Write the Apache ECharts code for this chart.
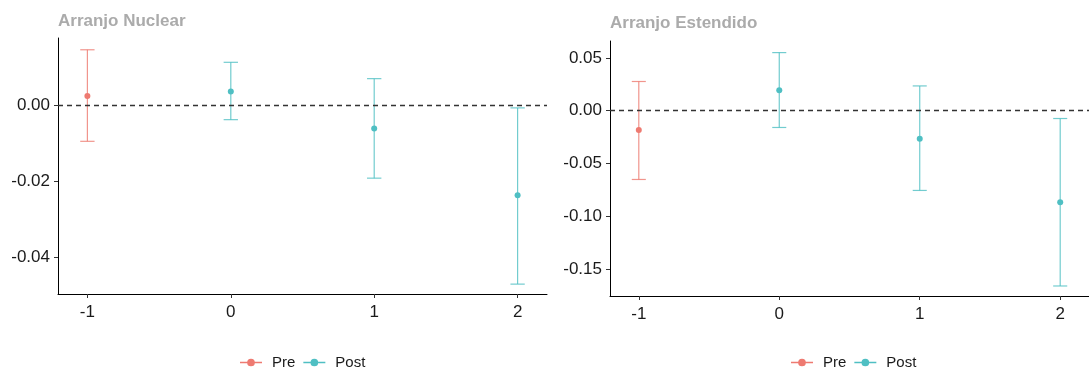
<!DOCTYPE html>
<html><head><meta charset="utf-8">
<script src="https://cdn.jsdelivr.net/npm/echarts@6/dist/echarts.min.js"></script>
<style>html,body{margin:0;padding:0;background:#fff}#c{width:1089px;height:371px}</style>
</head><body><div id="c"></div>
<script>
// ---- data ----
const titles = ['Arranjo Nuclear', 'Arranjo Estendido'];
const periods = [-1, 0, 1, 2];
const phase = ['Pre', 'Post', 'Post', 'Post'];
const nuclearEst = [0.0024, 0.0036, -0.0061, -0.0237];
const nuclearLo  = [-0.0095, -0.0038, -0.0192, -0.0471];
const nuclearHi  = [0.0146, 0.0113, 0.0070, -0.0007];
const estendEst = [-0.0182, 0.0194, -0.0267, -0.0869];
const estendLo  = [-0.0652, -0.0159, -0.0756, -0.1662];
const estendHi  = [0.0277, 0.0551, 0.0235, -0.0074];
const nuclearTicks = [-0.04, -0.02, 0.00];
const estendTicks = [-0.15, -0.10, -0.05, 0.00, 0.05];
const xTicks = [-1, 0, 1, 2];

const colors = { Pre: '#EE7A71', Post: '#4FBFC3' };
const capHalf = 0.05;

function rowsFor(est, lo, hi, ph) {
  const r = [];
  periods.forEach((p, i) => { if (phase[i] === ph) r.push([p, est[i], lo[i], hi[i]]); });
  return r;
}

function errSeries(name, idx, rows) {
  const c = colors[name];
  return {
    type: 'custom', name: name, xAxisIndex: idx, yAxisIndex: idx,
    data: rows, encode: { x: 0, y: [1, 2, 3] },
    renderItem: function (params, api) {
      const x = api.value(0), y = api.value(1), lo = api.value(2), hi = api.value(3);
      const pLo = api.coord([x, lo]), pHi = api.coord([x, hi]), pM = api.coord([x, y]);
      const l = api.coord([x - capHalf, lo])[0], r = api.coord([x + capHalf, lo])[0];
      const ls = { stroke: c, lineWidth: 1.2, opacity: 0.8 };
      return { type: 'group', children: [
        { type: 'line', shape: { x1: pLo[0], y1: pLo[1], x2: pHi[0], y2: pHi[1] }, style: ls },
        { type: 'line', shape: { x1: l, y1: pLo[1], x2: r, y2: pLo[1] }, style: ls },
        { type: 'line', shape: { x1: l, y1: pHi[1], x2: r, y2: pHi[1] }, style: ls },
        { type: 'circle', shape: { cx: pM[0], cy: pM[1], r: 3 }, style: { fill: c } }
      ]};
    },
    itemStyle: { color: c },
    z: 3
  };
}

function zeroLine(idx) {
  return {
    type: 'line', xAxisIndex: idx, yAxisIndex: idx, data: [], silent: true,
    markLine: { silent: true, symbol: 'none', label: { show: false },
      lineStyle: { color: '#333', width: 1.3, type: [5, 4] },
      data: [{ yAxis: 0 }] },
    z: 2
  };
}

const grids = [
  { left: 58, top: 38, width: 489, height: 256 },
  { left: 610, top: 41, width: 485, height: 255 }
];
const yRanges = [[-0.0497, 0.0177], [-0.1757, 0.0661]];
const yTickSets = [nuclearTicks, estendTicks];

const FONT = 'Liberation Sans, Arial, sans-serif';
const axisText = { color: '#1a1a1a', fontSize: 17, fontFamily: FONT };

const xAxes = grids.map((g, i) => ({
  type: 'value', gridIndex: i, min: -1.205, max: 2.205,
  axisLine: { show: true, onZero: false, lineStyle: { color: '#000', width: 1 } },
  axisTick: { show: true, customValues: xTicks, length: 4, lineStyle: { color: '#333' } },
  axisLabel: Object.assign({ customValues: xTicks, margin: 10, formatter: v => String(v) }, axisText),
  splitLine: { show: false }
}));
const yAxes = grids.map((g, i) => ({
  type: 'value', gridIndex: i, min: yRanges[i][0], max: yRanges[i][1],
  axisLine: { show: true, onZero: false, lineStyle: { color: '#000', width: 1 } },
  axisTick: { show: true, customValues: yTickSets[i], length: 4, lineStyle: { color: '#333' } },
  axisLabel: Object.assign({ customValues: yTickSets[i], margin: 8, formatter: v => v.toFixed(2) }, axisText),
  splitLine: { show: false }
}));

const icon = 'path://M0,4.3 L20,4.3 L20,5.7 L0,5.7 Z M13.5,5 A3.5,3.5 0 1,1 6.5,5 A3.5,3.5 0 1,1 13.5,5 Z';
function legend(left) {
  return {
    left: left, top: 355, padding: 0, icon: icon, itemWidth: 22, itemHeight: 7.7, itemGap: 8,
    textStyle: { color: '#1a1a1a', fontSize: 15, fontFamily: FONT, padding: [0, 0, 0, 5] },
    data: ['Pre', 'Post'], selectedMode: false
  };
}

const titleStyle = { color: '#ABABAB', fontSize: 17, fontWeight: 'bold', fontFamily: FONT };
const option = {
  animation: false,
  title: [
    { text: titles[0], left: 58, top: 13, padding: 0, textStyle: titleStyle },
    { text: titles[1], left: 610, top: 15, padding: 0, textStyle: titleStyle }
  ],
  grid: grids,
  xAxis: xAxes,
  yAxis: yAxes,
  legend: [ legend(240), legend(791) ],
  series: [
    zeroLine(0), zeroLine(1),
    errSeries('Pre', 0, rowsFor(nuclearEst, nuclearLo, nuclearHi, 'Pre')),
    errSeries('Post', 0, rowsFor(nuclearEst, nuclearLo, nuclearHi, 'Post')),
    errSeries('Pre', 1, rowsFor(estendEst, estendLo, estendHi, 'Pre')),
    errSeries('Post', 1, rowsFor(estendEst, estendLo, estendHi, 'Post'))
  ]
};
echarts.init(document.getElementById('c'), null, { renderer: 'canvas' }).setOption(option);
</script></body></html>
